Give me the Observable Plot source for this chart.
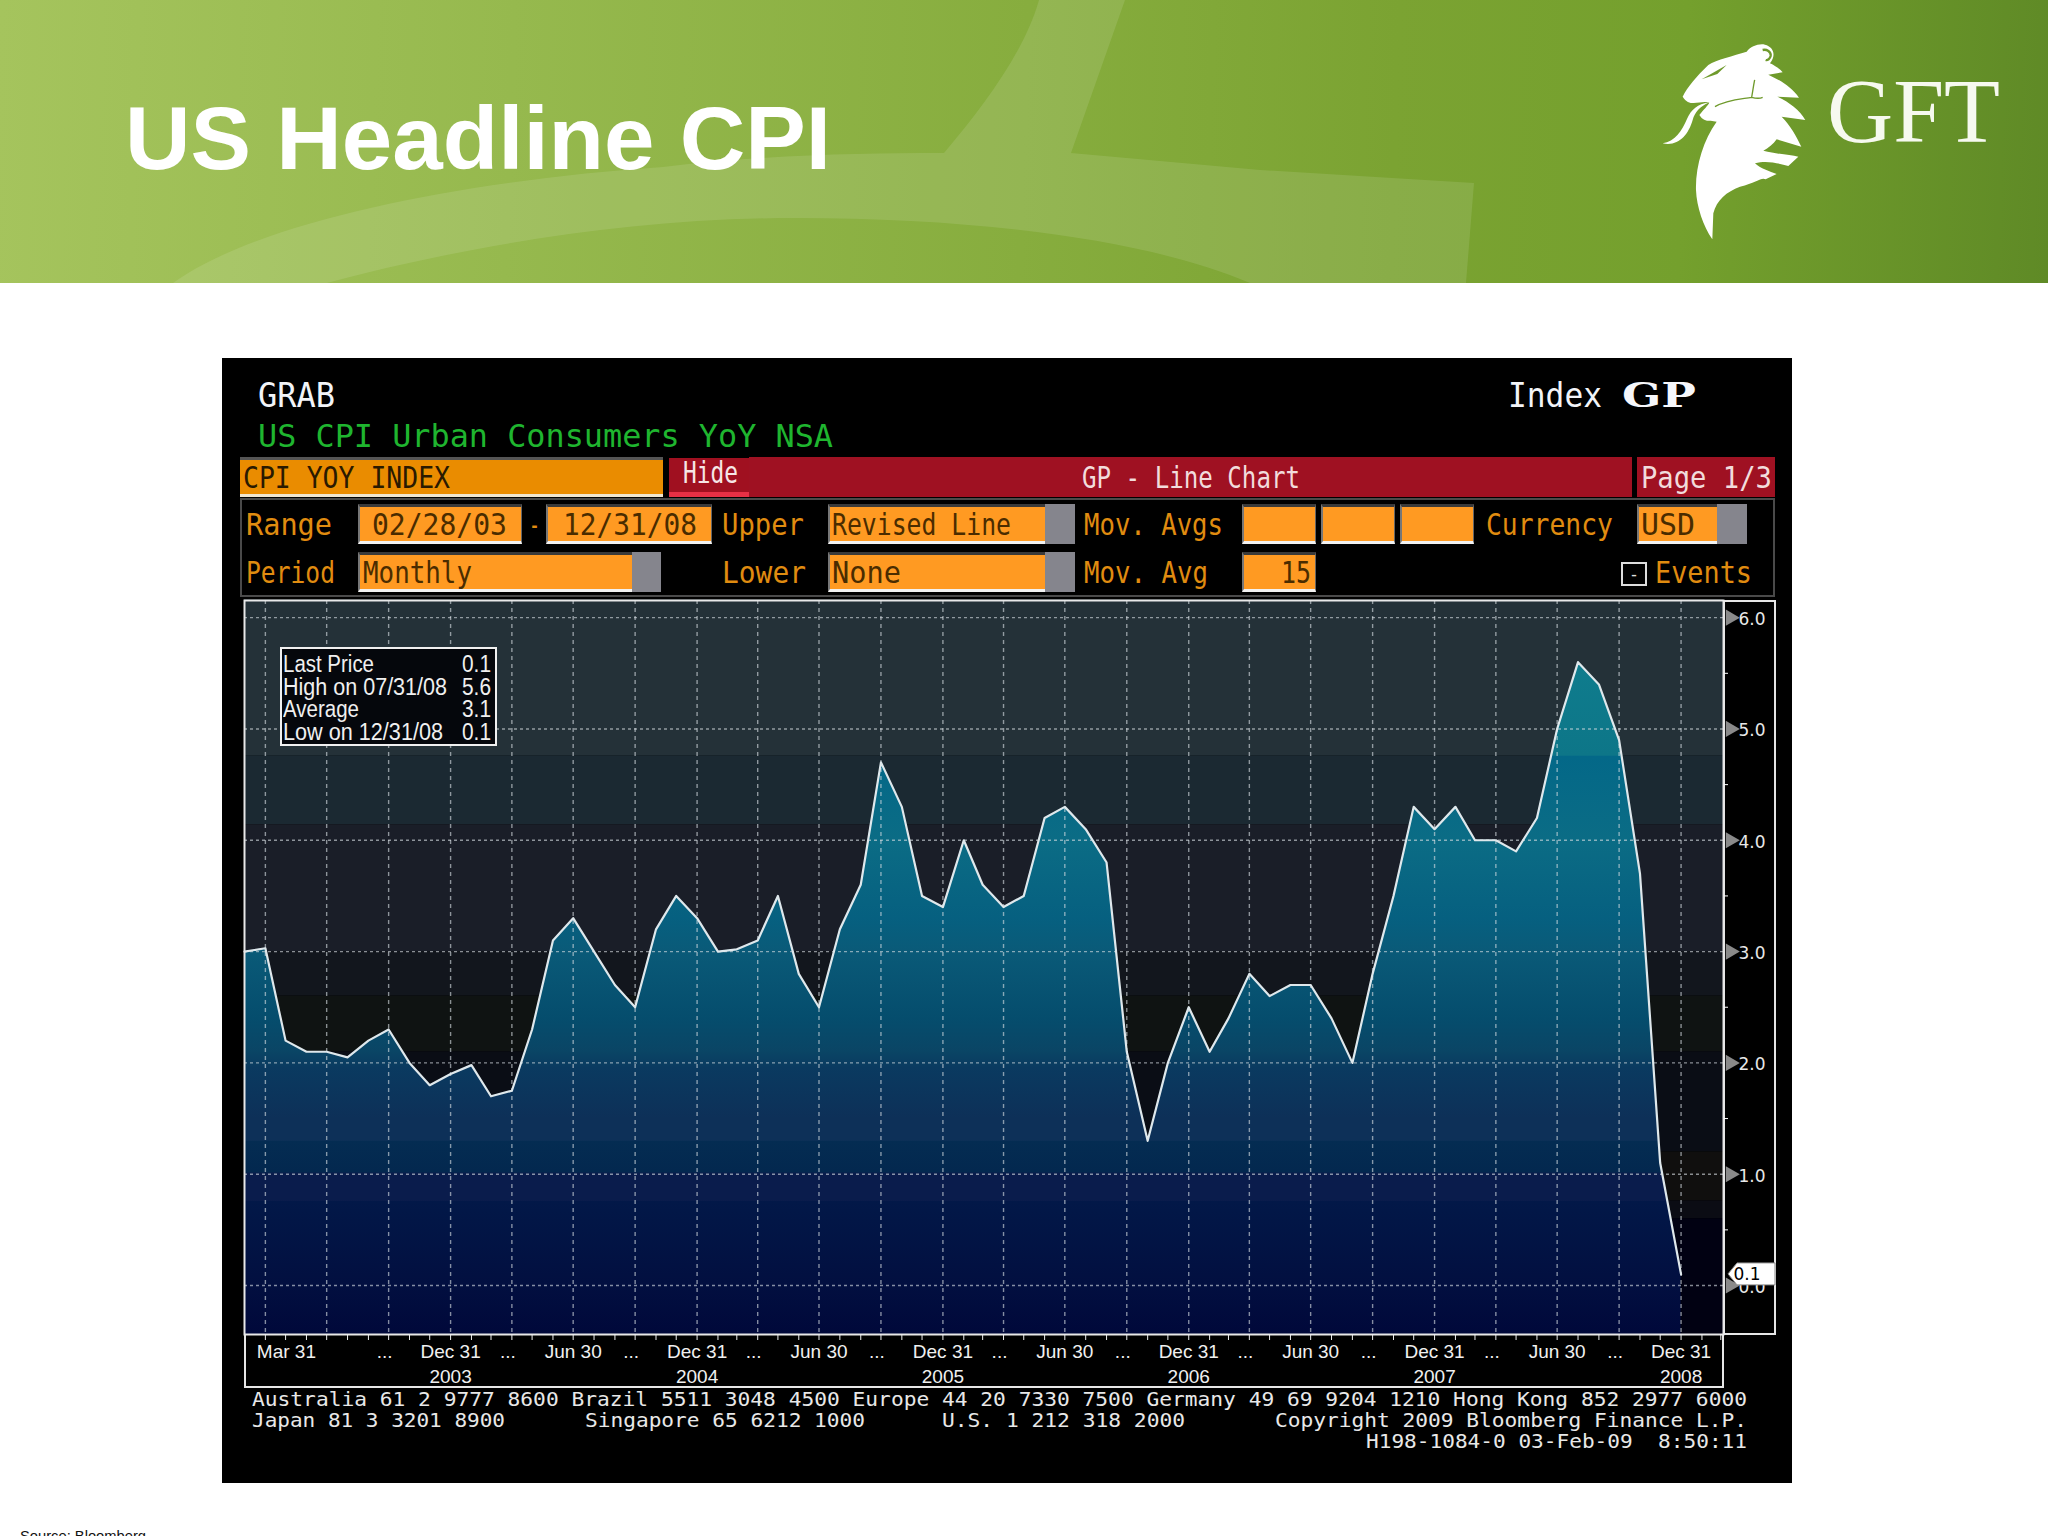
<!DOCTYPE html>
<html><head><meta charset="utf-8">
<script src="https://cdn.jsdelivr.net/npm/d3@7"></script>
<script src="https://cdn.jsdelivr.net/npm/@observablehq/plot@0.6"></script>
<style>
html,body{margin:0;padding:0;width:2048px;height:1536px;overflow:hidden;background:#fff}
#page{position:relative;width:2048px;height:1536px;overflow:hidden}
#page>div{position:absolute}
.t{white-space:pre;line-height:1;transform-origin:0 0}
#plot{left:222px;top:590px;z-index:2}
#plot svg{background:transparent;display:block;max-width:none}
#header{left:0;top:0;width:2048px;height:283px;background:linear-gradient(92deg,#a5c45d 0%,#96b94e 25%,#87ad3e 50%,#7ba332 68%,#74a02d 82%,#5f8a26 100%)}
</style></head>
<body><div id="page"></div>
<script>
// ---------- chart data (US CPI Urban Consumers YoY NSA, monthly, month-end) ----------
const cpi2003 = [3.0, 3.03, 2.2, 2.1, 2.1, 2.05, 2.2, 2.3, 2.0, 1.8, 1.9];   // Feb..Dec
const cpi2004 = [1.98, 1.7, 1.75, 2.3, 3.1, 3.3, 3.0, 2.7, 2.5, 3.2, 3.5, 3.3];
const cpi2005 = [3.0, 3.02, 3.1, 3.5, 2.8, 2.5, 3.2, 3.6, 4.7, 4.3, 3.5, 3.4];
const cpi2006 = [4.0, 3.6, 3.4, 3.5, 4.2, 4.3, 4.1, 3.8, 2.1, 1.3, 2.0, 2.5];
const cpi2007 = [2.1, 2.4, 2.8, 2.6, 2.7, 2.7, 2.4, 2.0, 2.8, 3.5, 4.3, 4.1];
const cpi2008 = [4.3, 4.0, 4.0, 3.9, 4.2, 5.0, 5.6, 5.4, 4.9, 3.7, 1.1, 0.1];
const yMajor = [0, 1, 2, 3, 4, 5, 6];
const yMinor = [0.5, 1.5, 2.5, 3.5, 4.5, 5.5];
const quarterLabels = ["Dec 31","Jun 30","Dec 31","Jun 30","Dec 31","Jun 30","Dec 31","Jun 30","Dec 31","Jun 30","Dec 31"];
const quarterLabelAt = ["2003-12-31","2004-06-30","2004-12-31","2005-06-30","2005-12-31","2006-06-30","2006-12-31","2007-06-30","2007-12-31","2008-06-30","2008-12-31"];
const firstLabel = "Mar 31", firstLabelAt = "2003-03-31";
const ellipsisAt = ["2003-09-30","2004-03-31","2004-09-30","2005-03-31","2005-09-30","2006-03-31","2006-09-30","2007-03-31","2007-09-30","2008-03-31","2008-09-30"];
const yearLabels = ["2003","2004","2005","2006","2007","2008"];
const statLabels = ["Last Price","High on 07/31/08","Average","Low on 12/31/08"];
const statValues = ["0.1","5.6","3.1","0.1"];
const lastValue = 0.1;
// panel background steps and the area's fill ramp, both in value units of the y axis
const bgSteps = [[4.76,6.16,"#243138"],[4.14,4.76,"#1b2932"],[3.0,4.14,"#1a1e28"],[2.6,3.0,"#12161d"],[2.1,2.6,"#0f1312"],[1.2,2.1,"#0a0d15"],[0.76,1.2,"#100f0e"],[0.6,0.76,"#0b0c14"],[-0.44,0.6,"#010112"]];
const fillRamp = [[5.7,"#0f7d8e"],[4.76,"#0d7688"],[4.75,"#036888"],[4.0,"#0b6c85"],[3.3,"#066080"],[3.0,"#0a5a78"],[2.4,"#054d6d"],[2.1,"#0a4565"],[1.95,"#0a3a60"],[1.5,"#0d3058"],[1.3,"#0d3058"],[1.29,"#042c52"],[1.02,"#03284f"],[1.0,"#0a1c4c"],[0.76,"#0a1c4c"],[0.75,"#021848"],[0,"#020f40"],[-0.44,"#00083a"]];

const cpiValues = [...cpi2003, ...cpi2004, ...cpi2005, ...cpi2006, ...cpi2007, ...cpi2008];
const monthEnd = i => new Date(Date.UTC(2003, 2 + i, 0));           // i = 0 -> 2003-02-28
const series = cpiValues.map((value, i) => ({date: monthEnd(i), value}));
const axisMonths = d3.range(1, 73).map(monthEnd);
const quarters = series.map(d => d.date).filter(d => d.getUTCMonth() % 3 === 2);
const xMin = monthEnd(0), xMax = new Date("2009-03-04"), yMin = -0.44, yMax = 6.154;
const quarterRows = quarterLabels.map((label, i) => ({label, date: new Date(quarterLabelAt[i])}));
const ellipsisRows = ellipsisAt.map(d => ({label: "...", date: new Date(d)}));
const yearRows = yearLabels.map(y => ({label: y, date: new Date(y + "-12-31")}));

// ---------- page chrome helpers ----------
const page = document.getElementById("page");
function box(x0, y0, x1, y1, bg, css = "") {
  const d = document.createElement("div");
  d.style.cssText = `left:${x0}px;top:${y0}px;width:${x1 - x0}px;height:${y1 - y0}px;background:${bg};box-sizing:border-box;${css}`;
  page.appendChild(d); return d;
}
function label(text, x0, x1, base, size, color, family = "'DejaVu Sans Mono'", extra = "") {
  const d = document.createElement("div");
  d.className = "t";
  d.style.cssText = `left:${x0}px;top:0;font:${size}px ${family};color:${color};z-index:5;${extra}`;
  d.textContent = text;
  const m = document.createElement("span");
  m.style.cssText = "display:inline-block;width:0;height:0";
  d.appendChild(m);
  page.appendChild(d);
  const b = m.getBoundingClientRect().bottom, w = d.getBoundingClientRect().width;
  d.style.top = (base - b) + "px";
  d.style.transform = `scaleX(${(x1 - x0) / w})`;
  return d;
}
function field(x0, y0, x1, y1, greyFrom, bg = "#ff9a22") {
  box(x0, y0, x1, y1, bg, "border-top:3px solid #3a3a3a;border-left:2px solid #777;border-right:1px solid #666;border-bottom:3px solid #f2f2f2");
  if (greyFrom) box(greyFrom, y0, x1, y1, "#85858d");
}

// ---------- slide header ----------
const header = document.createElement("div"); header.id = "header"; page.appendChild(header);
const deco = box(0, 0, 2048, 283, "transparent");
deco.innerHTML = `<svg width="2048" height="283" style="display:block">
<path fill="#fff" fill-opacity=".11" d="M1039 0L1125 0L1071 153L1260 170L1474 183L1466 283L1250 283C1150 240 980 218 796 218C620 218 450 250 327 283L173 283C260 220 470 180 663 167C760 155 860 153 944 153C985 105 1025 50 1039 0Z"/>
<g transform="translate(1600,0) scale(.3333)">
<path fill="#fff" d="M248 290C262 262 290 228 325 195C350 178 400 168 440 155C452 140 475 130 495 134C520 140 530 165 510 190C525 197 540 207 548 217L505 224C540 240 575 262 597 293L532 290C565 305 600 330 616 360L545 350C570 375 590 410 604 440L530 418C520 432 505 445 490 452C530 462 570 465 595 470L565 498C535 490 500 480 465 490C480 505 510 515 530 522L497 538C485 530 470 548 420 560C380 575 350 600 340 640L337 718C310 680 290 620 288 570C286 500 310 420 350 365L332 362C315 365 305 355 298 345C310 330 325 315 328 308C300 300 270 325 248 290Z"/>
<path fill="#fff" d="M188 430C225 425 245 395 262 355C272 330 295 310 325 308C300 320 285 335 278 360C265 405 235 440 188 430Z"/>
<path fill="none" stroke="#6f9a2c" stroke-width="7" d="M488 150C500 147 514 155 512 168C510 176 503 182 497 180"/>
<path fill="none" stroke="#6f9a2c" stroke-width="4" d="M345 320C380 300 420 298 455 292C470 296 480 296 488 292M455 292C458 275 460 260 464 240"/>
<path fill="#6f9a2c" d="M305 238L380 195L352 222Z"/>
</g></svg>`;
label("GFT", 1827, 2000, 142, 90, "#f6f9ef", "'Liberation Serif'");
label("US Headline CPI", 125, 831, 169, 89, "#fff", "'Liberation Sans'", "font-weight:bold");
label("Source: Bloomberg", 20, 146, 1541, 15, "#111", "'Liberation Sans'");

// ---------- terminal chrome ----------
box(222, 358, 1792, 1483, "#000");
label("GRAB", 258, 335, 407, 33, "#f2f4f8");
label("US CPI Urban Consumers YoY NSA", 258, 833, 447, 32, "#1fb52f");
label("Index", 1508, 1602, 407, 33, "#f2f4f8");
label("GP", 1622, 1696, 407, 34, "#f6f7fb", "'DejaVu Serif'", "font-weight:bold");
// title bar row
box(240, 498, 1775, 597, "#000", "border:2px solid #4a4a4a");
box(240, 457, 663, 497, "#ea8c00", "border-top:3px solid #555;border-bottom:3px solid #f0e6d0");
label("CPI YOY INDEX", 243, 450, 488, 31, "#2a1a00");
box(669, 458, 749, 497, "#a01020", "border-bottom:5px solid #e63045");
label("Hide", 683, 738, 483, 30, "#f6e6e6");
box(749, 457, 1632, 497, "#9f1122");
label("GP - Line Chart", 1082, 1300, 488, 31, "#f2dcdc");
box(1637, 457, 1775, 497, "#9f1122");
label("Page 1/3", 1641, 1772, 488, 31, "#f2dcdc");
// form rows
const amber = "#e08c10", ink = "#4a2c00";
label("Range", 246, 332, 535, 31, amber);
field(358, 504, 522, 544); label("02/28/03", 372, 507, 535, 31, ink);
label("-", 529, 540, 535, 31, amber);
field(546, 504, 712, 544); label("12/31/08", 563, 697, 535, 31, ink);
label("Upper", 722, 804, 535, 31, amber);
field(828, 504, 1075, 544, 1045); label("Revised Line", 832, 1011, 535, 31, ink);
label("Mov. Avgs", 1084, 1223, 535, 31, amber);
field(1242, 504, 1316, 544); field(1321, 504, 1395, 544); field(1400, 504, 1474, 544);
label("Currency", 1486, 1613, 535, 31, amber);
field(1637, 504, 1747, 544, 1717); label("USD", 1641, 1695, 535, 31, ink);
label("Period", 246, 335, 583, 31, amber);
field(358, 552, 661, 592, 632); label("Monthly", 363, 472, 583, 31, ink);
label("Lower", 722, 806, 583, 31, amber);
field(828, 552, 1075, 592, 1045); label("None", 832, 901, 583, 31, ink);
label("Mov. Avg", 1084, 1208, 583, 31, amber);
field(1242, 552, 1316, 592); label("15", 1281, 1311, 583, 31, ink);
box(1621, 562, 1647, 586, "#000", "border:2px solid #ddd");
label("-", 1629, 1639, 580, 18, "#ddd");
label("Events", 1655, 1752, 583, 31, amber);
// panels round the plot
box(1723, 600, 1776, 1335, "#000", "border:2px solid #e6e6e6");
box(244, 1333, 1724, 1388, "#000", "border:2px solid #e6e6e6");
// footer
const foot = "#e8e8e8", footPx = 20;
label("Australia 61 2 9777 8600 Brazil 5511 3048 4500 Europe 44 20 7330 7500 Germany 49 69 9204 1210 Hong Kong 852 2977 6000", 252, 1747, 1406, footPx, foot);
label("Japan 81 3 3201 8900", 252, 505, 1427, footPx, foot);
label("Singapore 65 6212 1000", 585, 865, 1427, footPx, foot);
label("U.S. 1 212 318 2000", 942, 1185, 1427, footPx, foot);
label("Copyright 2009 Bloomberg Finance L.P.", 1275, 1747, 1427, footPx, foot);
label("H198-1084-0 03-Feb-09  8:50:11", 1366, 1747, 1448, footPx, foot);

// ---------- the chart ----------
const gradientMark = (index, {y}) => {
  const svg = d3.create("svg:defs");
  const g = svg.append("linearGradient").attr("id", "cpiFill").attr("gradientUnits", "userSpaceOnUse")
    .attr("x1", 0).attr("x2", 0).attr("y1", y(fillRamp[0][0])).attr("y2", y(fillRamp[fillRamp.length - 1][0]));
  const span = fillRamp[0][0] - fillRamp[fillRamp.length - 1][0];
  for (const [v, c] of fillRamp) g.append("stop").attr("offset", (fillRamp[0][0] - v) / span).attr("stop-color", c);
  return svg.node();
};
const lastTagMark = (index, {x, y}) => {
  const g = d3.create("svg:g");
  const right = x(xMax), yy = y(lastValue);
  g.append("path").attr("fill", "#fff").attr("stroke", "#888")
    .attr("d", `M${right + 5},${yy}L${right + 14},${yy - 11}L${right + 52},${yy - 11}L${right + 52},${yy + 11}L${right + 14},${yy + 11}Z`);
  g.append("text").attr("x", right + 24).attr("y", yy).attr("dy", "0.36em").attr("text-anchor", "middle")
    .attr("font-family", "'DejaVu Sans'").attr("font-size", 17).attr("fill", "#000").text(String(lastValue));
  return g.node();
};
const gridColor = "#d6dde2";
const labelStyle = {frameAnchor: "bottom", fontSize: 19, fill: "#f0f0f0"};
const chart = Plot.plot({
  width: 1570, height: 802,
  marginLeft: 22, marginRight: 69, marginTop: 10, marginBottom: 58,
  style: {background: "transparent", fontFamily: "'Liberation Sans'", color: "#f0f0f0"},
  x: {type: "utc", domain: [xMin, xMax]},
  y: {domain: [yMin, yMax]},
  marks: [
    gradientMark,
    Plot.rect(bgSteps, {x1: () => xMin, x2: () => xMax, y1: d => d[0], y2: d => d[1], fill: {value: d => d[2], scale: null}}),
    Plot.areaY(series, {x: "date", y1: () => yMin, y2: "value", fill: "url(#cpiFill)"}),
    Plot.ruleX(quarters, {stroke: gridColor, strokeOpacity: 0.62, strokeWidth: 1.4, strokeDasharray: "4,4"}),
    Plot.ruleY(yMajor, {stroke: gridColor, strokeOpacity: 0.62, strokeWidth: 1.4, strokeDasharray: "3,3"}),
    Plot.line(series, {x: "date", y: "value", stroke: "#dfe8ec", strokeWidth: 2.2}),
    Plot.frame({stroke: "#e8e8e8", strokeWidth: 2}),
    Plot.axisX({ticks: axisMonths, tickSize: 6, tickFormat: () => "", label: null, stroke: "#eee"}),
    Plot.text(quarterRows, {...labelStyle, x: "date", text: "label", dy: 23}),
    Plot.text(ellipsisRows, {...labelStyle, x: "date", text: "label", dy: 23, dx: -4}),
    Plot.text([firstLabel], {...labelStyle, x: () => new Date(firstLabelAt), dy: 23, dx: 21}),
    Plot.text(yearRows, {...labelStyle, x: "date", text: "label", dy: 48}),
    Plot.axisY({anchor: "right", ticks: yMinor, tickSize: 4, tickFormat: () => "", label: null, stroke: "#fff"}),
    Plot.axisY({anchor: "right", ticks: yMajor, tickSize: 0, tickPadding: 15, tickFormat: d3.format(".1f"), label: null,
                fontSize: 17, fontFamily: "'DejaVu Sans'", fill: "#e8e8e8", textAnchor: "start", dy: 2}),
    Plot.dot(yMajor, {x: () => xMax, y: d => d, dx: 7, symbol: "triangle", rotate: 90, r: 6, fill: "#8a8a8a"}),
    lastTagMark
  ]
});
const holder = document.createElement("div"); holder.id = "plot"; holder.appendChild(chart); page.appendChild(holder);

// last-price box
box(280, 647, 497, 746, "#05070c", "border:2px solid #f0f0f0;z-index:4");
[[672, 91], [695, 164], [717, 76], [740, 160]].forEach(([base, w], i) => {
  label(statLabels[i], 283, 283 + w, base, 23, "#f0f0f0", "'Liberation Sans'");
  label(statValues[i], 462, 491, base, 23, "#f0f0f0", "'Liberation Sans'");
});
</script></body></html>
